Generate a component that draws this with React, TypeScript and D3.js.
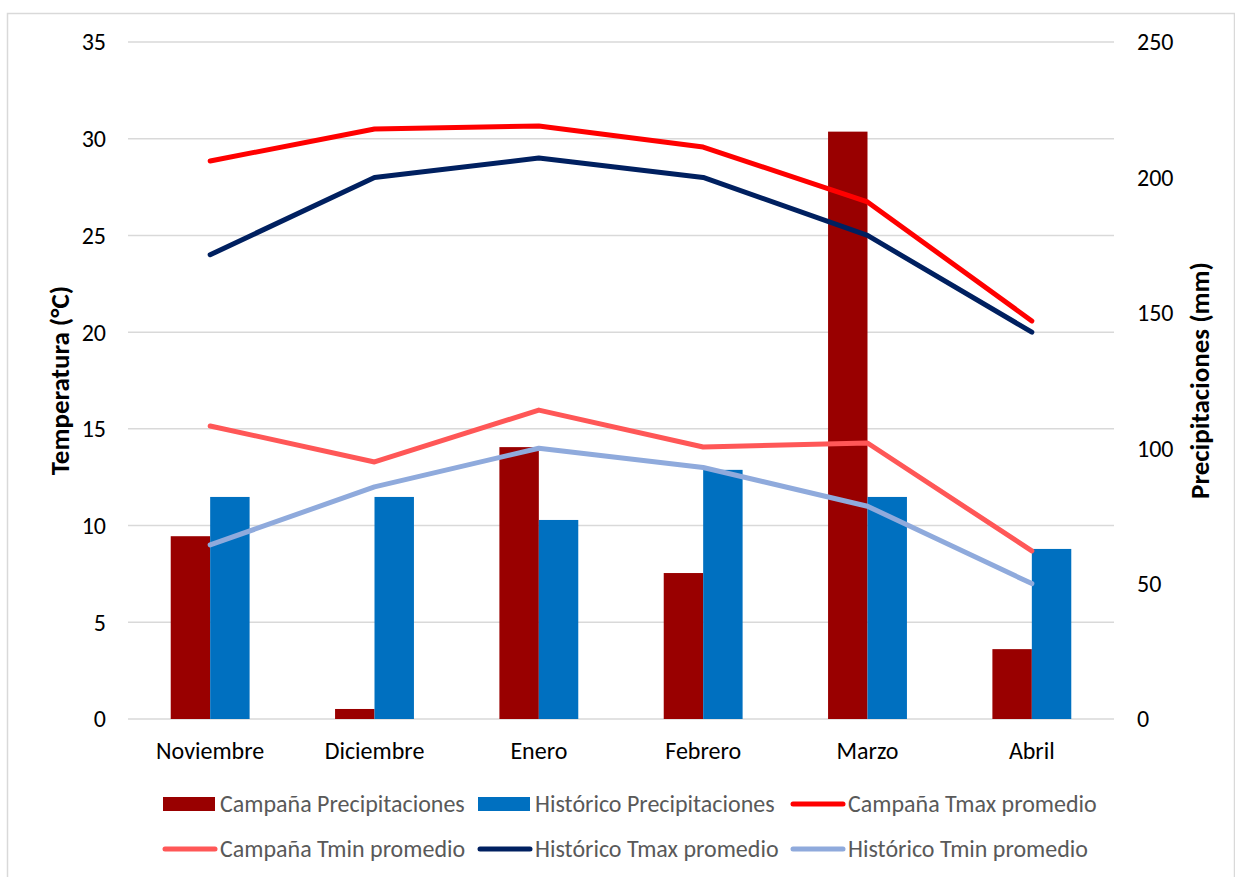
import React from "react";
import * as d3 from "d3";

const months = ["Noviembre", "Diciembre", "Enero", "Febrero", "Marzo", "Abril"];
const campPrecip = [67.5, 3.7, 100.4, 53.9, 216.9, 25.8];
const histPrecip = [82, 82, 73.5, 92, 82, 62.8];
const campTmax = [28.85, 30.5, 30.66, 29.57, 26.73, 20.58];
const histTmax = [24, 28, 29, 28, 25, 20];
const campTmin = [15.15, 13.29, 15.97, 14.06, 14.27, 8.69];
const histTmin = [9, 12, 14, 13, 11, 7];
const tempTicks = [0, 5, 10, 15, 20, 25, 30, 35];
const precipTicks = [0, 50, 100, 150, 200, 250];

const W = 1235;
const H = 877;
const left = 128;
const right = 1114;
const top = 42;
const bottom = 719;
const FONT = "Carlito, Calibri, Lato, 'Open Sans', sans-serif";
const FS = 24;
const TITLE_FS = 27;

const C_CAMP_BAR = "#990000";
const C_HIST_BAR = "#0070C0";
const C_CAMP_TMAX = "#FF0000";
const C_CAMP_TMIN = "#FF5757";
const C_HIST_TMAX = "#002060";
const C_HIST_TMIN = "#8FAADC";

export default function App() {
  const x = d3.scaleBand<string>().domain(months).range([left, right]);
  const cx = (m: string) => (x(m) as number) + x.bandwidth() / 2;
  const yT = d3.scaleLinear().domain([0, 35]).range([bottom, top]);
  const yP = d3.scaleLinear().domain([0, 250]).range([bottom, top]);
  const barW = x.bandwidth() * 0.24;

  const line = (vals: number[]) =>
    d3
      .line<number>()
      .x((_, i) => cx(months[i]))
      .y((v) => yT(v))(vals) as string;

  const lines = [
    { vals: campTmax, color: C_CAMP_TMAX },
    { vals: campTmin, color: C_CAMP_TMIN },
    { vals: histTmax, color: C_HIST_TMAX },
    { vals: histTmin, color: C_HIST_TMIN },
  ];

  const legend = [
    { label: "Campaña Precipitaciones", color: C_CAMP_BAR, kind: "bar", x: 163, y: 804 },
    { label: "Histórico Precipitaciones", color: C_HIST_BAR, kind: "bar", x: 478, y: 804 },
    { label: "Campaña Tmax promedio", color: C_CAMP_TMAX, kind: "line", x: 791, y: 804 },
    { label: "Campaña Tmin promedio", color: C_CAMP_TMIN, kind: "line", x: 163, y: 849 },
    { label: "Histórico Tmax promedio", color: C_HIST_TMAX, kind: "line", x: 478, y: 849 },
    { label: "Histórico Tmin promedio", color: C_HIST_TMIN, kind: "line", x: 791, y: 849 },
  ];

  return (
    <svg
      width={W}
      height={H}
      style={{ position: "absolute", left: 0, top: 0, background: "#fff" }}
      fontFamily={FONT}
    >
      <rect x={7.5} y={13.5} width={1227} height={870} fill="#fff" stroke="#D9D9D9" strokeWidth={1.5} />

      {tempTicks.map((t) => (
        <line key={t} x1={left} x2={right} y1={yT(t)} y2={yT(t)} stroke="#D9D9D9" strokeWidth={1.5} />
      ))}

      {tempTicks.map((t) => (
        <text key={t} x={106} y={yT(t)} dy="0.35em" textAnchor="end" fontSize={FS} fill="#000">
          {t}
        </text>
      ))}
      {precipTicks.map((t) => (
        <text key={t} x={1137} y={yP(t)} dy="0.35em" textAnchor="start" fontSize={FS} fill="#000">
          {t}
        </text>
      ))}

      {months.map((m, i) => (
        <g key={m}>
          <rect x={cx(m) - barW} y={yP(campPrecip[i])} width={barW} height={bottom - yP(campPrecip[i])} fill={C_CAMP_BAR} />
          <rect x={cx(m)} y={yP(histPrecip[i])} width={barW} height={bottom - yP(histPrecip[i])} fill={C_HIST_BAR} />
        </g>
      ))}

      {lines.map((l, i) => (
        <path key={i} d={line(l.vals)} fill="none" stroke={l.color} strokeWidth={5} strokeLinecap="round" strokeLinejoin="round" />
      ))}

      {months.map((m) => (
        <text key={m} x={cx(m)} y={751} dy="0.35em" textAnchor="middle" fontSize={FS} fill="#000">
          {m}
        </text>
      ))}

      <text
        transform={`translate(60,${(top + bottom) / 2}) rotate(-90)`}
        textAnchor="middle"
        dy="0.35em"
        fontSize={TITLE_FS}
        fontWeight="bold"
        fill="#000"
      >
        Temperatura (°C)
      </text>
      <text
        transform={`translate(1200,${(top + bottom) / 2}) rotate(-90)`}
        textAnchor="middle"
        dy="0.35em"
        fontSize={TITLE_FS}
        fontWeight="bold"
        fill="#000"
      >
        Precipitaciones (mm)
      </text>

      {legend.map((g) => (
        <g key={g.label}>
          {g.kind === "bar" ? (
            <rect x={g.x} y={g.y - 7} width={52} height={14} fill={g.color} />
          ) : (
            <line x1={g.x + 2} x2={g.x + 52} y1={g.y} y2={g.y} stroke={g.color} strokeWidth={5} strokeLinecap="round" />
          )}
          <text x={g.x + 57} y={g.y} dy="0.35em" fontSize={FS} fill="#595959">
            {g.label}
          </text>
        </g>
      ))}
    </svg>
  );
}
